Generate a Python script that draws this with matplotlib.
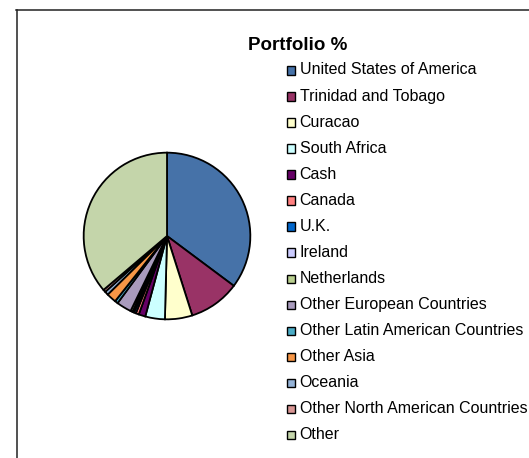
import matplotlib
matplotlib.use("Agg")
import matplotlib.pyplot as plt
from matplotlib.patches import Rectangle
from matplotlib.lines import Line2D

# portfolio split, percent
labels = ["United States of America", "Trinidad and Tobago", "Curacao",
          "South Africa", "Cash", "Canada", "U.K.", "Ireland", "Netherlands",
          "Other European Countries", "Other Latin American Countries",
          "Other Asia", "Oceania", "Other North American Countries", "Other"]
values = [35.2, 9.9, 5.3, 3.8, 1.3, 0.6, 0.4, 0.3, 0.4,
          2.9, 0.6, 1.9, 0.7, 0.5, 36.2]
colors = ["#4672A8", "#993366", "#FFFFCC", "#CCFFFF", "#660066", "#FF8080",
          "#0066CC", "#CCCCFF", "#B9CF8F", "#A99BBD", "#4BACC6", "#F79646",
          "#95B3D7", "#D99694", "#C4D5AA"]

W, H = 529, 458
fig = plt.figure(figsize=(W / 100, H / 100), dpi=100)
fig.patch.set_facecolor("white")

# chart area border (open at right / bottom)
fig.add_artist(Line2D([16.5 / W, 16.5 / W], [0, 1 - 9.5 / H], color="#222222", lw=1.1))
fig.add_artist(Line2D([16 / W, 1], [1 - 9.5 / H, 1 - 9.5 / H], color="#222222", lw=1.1))

# pie, centre (167, 236) px, radius 85 px
cx, cy, r = 167, 236, 85
ax = fig.add_axes([(cx - r) / W, (H - cy - r) / H, 2 * r / W, 2 * r / H])
ax.pie(values, colors=colors, startangle=90, counterclock=False,
       wedgeprops=dict(edgecolor="black", linewidth=1.3))
ax.set_xlim(-1.02, 1.02)
ax.set_ylim(-1.02, 1.02)
ax.axis("off")

fig.text(298 / W, 1 - 45 / H, "Portfolio %", ha="center", va="center",
         fontsize=13.5, fontweight="bold", family="Liberation Sans")

# legend column
y0, step = 70, 26.07
for i, (lab, col) in enumerate(zip(labels, colors)):
    y = y0 + i * step
    fig.add_artist(Rectangle((286.5 / W, 1 - (y + 4.5) / H), 8.5 / W, 8.5 / H,
                             facecolor=col, edgecolor="black", lw=1.0,
                             transform=fig.transFigure))
    fig.text(299.5 / W, 1 - y / H, lab, ha="left", va="center",
             fontsize=11.5, family="Liberation Sans")

fig.savefig("out.png", dpi=100)
